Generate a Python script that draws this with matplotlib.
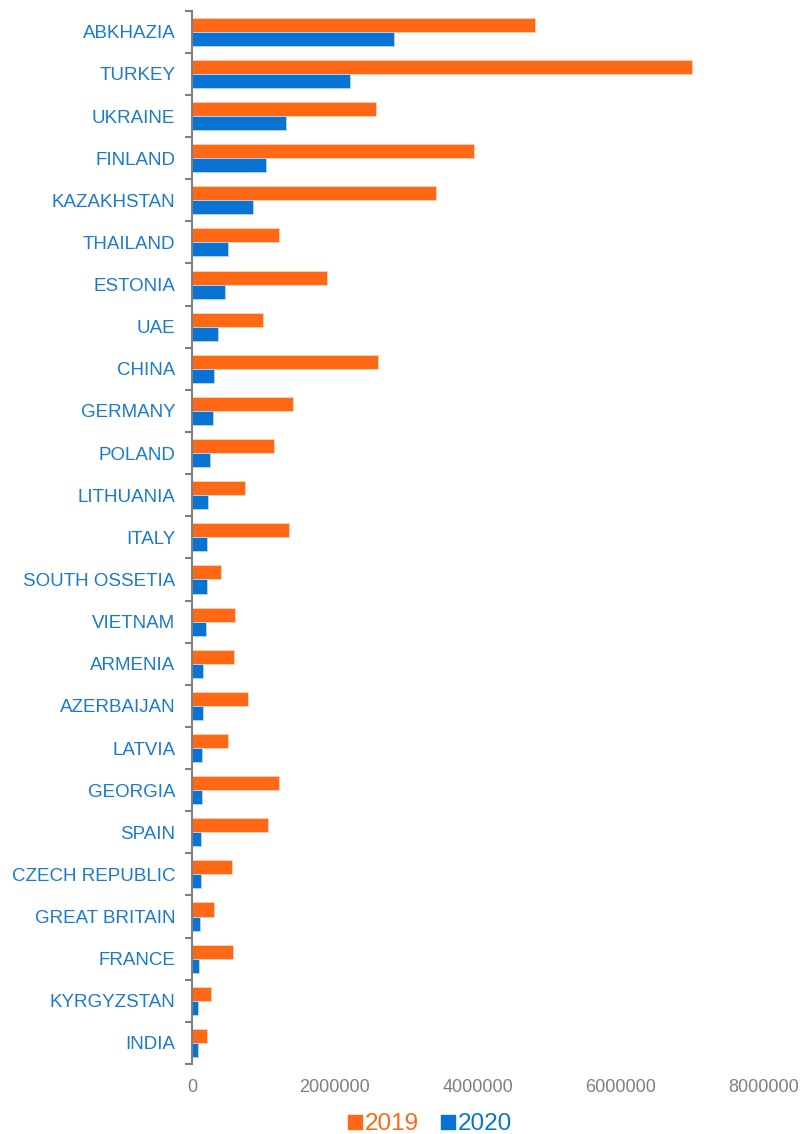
import matplotlib
matplotlib.use("Agg")
from matplotlib import pyplot as plt
from matplotlib.lines import Line2D
import numpy as np

countries = ["ABKHAZIA", "TURKEY", "UKRAINE", "FINLAND", "KAZAKHSTAN", "THAILAND",
             "ESTONIA", "UAE", "CHINA", "GERMANY", "POLAND", "LITHUANIA", "ITALY",
             "SOUTH OSSETIA", "VIETNAM", "ARMENIA", "AZERBAIJAN", "LATVIA", "GEORGIA",
             "SPAIN", "CZECH REPUBLIC", "GREAT BRITAIN", "FRANCE", "KYRGYZSTAN", "INDIA"]
v2019 = [4800000, 6990000, 2570000, 3940000, 3410000, 1220000,
         1890000, 990000, 2600000, 1410000, 1150000, 740000, 1360000,
         400000, 600000, 590000, 780000, 510000, 1210000,
         1060000, 560000, 310000, 570000, 270000, 210000]
v2020 = [2830000, 2210000, 1310000, 1030000, 850000, 500000,
         460000, 360000, 310000, 290000, 250000, 220000, 210000,
         210000, 190000, 160000, 160000, 140000, 140000,
         130000, 120000, 110000, 100000, 90000, 80000]
years = ["2019", "2020"]

orange = "#ff6815"
blue = "#0873d3"
label_blue = "#1a7acd"
grey = "#7f7f7f"

plt.rcParams["font.family"] = ["Liberation Sans", "DejaVu Sans"]

fig = plt.figure(figsize=(8.01, 11.34), dpi=100)
ax = fig.add_axes([192 / 801, 1 - 1064 / 1134, (764 - 192) / 801, (1064 - 10.7) / 1134])

y = np.arange(len(countries))
h = 1 / 3
ax.barh(y - h / 2, v2019, height=h, color=orange, edgecolor="#ffd2b5", linewidth=0.6)
ax.barh(y + h / 2, v2020, height=h, color=blue, edgecolor="#b8d6f2", linewidth=0.6)

ax.set_xlim(0, 8000000)
ax.set_ylim(len(countries) - 0.5, -0.5)

# category boundary ticks, labels in the middle
ax.set_yticks(np.arange(-0.5, len(countries), 1))
ax.set_yticklabels([])
ax.tick_params(axis="y", which="major", length=5, width=1.5, color=grey, direction="out")
ax.set_yticks(y, minor=True)
ax.set_yticklabels(countries, minor=True)
ax.tick_params(axis="y", which="minor", length=0, pad=12, labelsize=13.5, labelcolor=label_blue)

ax.set_xticks([0, 2000000, 4000000, 6000000, 8000000])
ax.set_xticklabels(["0", "2000000", "4000000", "6000000", "8000000"])
ax.tick_params(axis="x", length=0, pad=11, labelsize=13, labelcolor=grey)

for s in ["top", "right", "bottom"]:
    ax.spines[s].set_visible(False)
ax.spines["left"].set_color(grey)
ax.spines["left"].set_linewidth(1.5)

handles = [Line2D([], [], marker="s", linestyle="none", markersize=9.5, color=c)
           for c in (orange, blue)]
leg = fig.legend(handles, years, loc="center", bbox_to_anchor=(430 / 801, 1 - 1124 / 1134),
                 ncol=2, frameon=False, fontsize=17.5, handlelength=0.6, handletextpad=0.1,
                 columnspacing=0.9, borderpad=0)
for t, c in zip(leg.get_texts(), (orange, blue)):
    t.set_color(c)

fig.savefig("out.png", dpi=100)
